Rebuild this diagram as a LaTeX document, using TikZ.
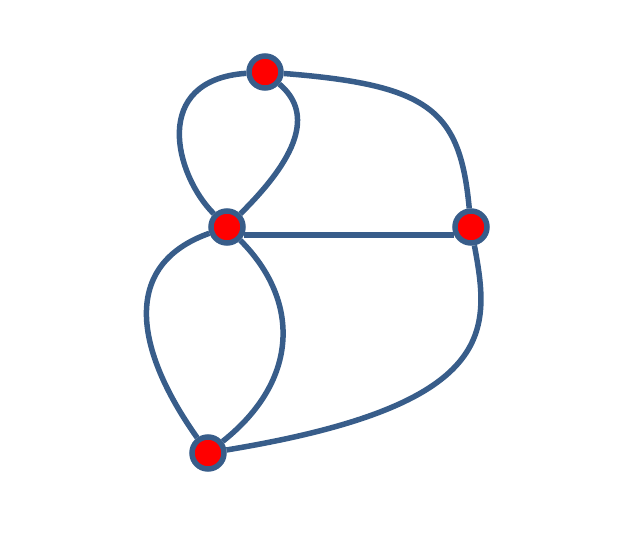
\documentclass[tikz,border=0pt]{standalone}
\usepackage{tikz}

\definecolor{edgeblue}{HTML}{385D8A}

\begin{document}
\begin{tikzpicture}[x=1pt,y=-1pt,
vertex/.style={circle,draw=edgeblue,fill=red,line width=5.5pt,minimum size=32pt,inner sep=0pt},
edge/.style={draw=edgeblue,line width=5.5pt}]
\useasboundingbox (0,0) rectangle (636,545);
% The vertices
\node[vertex] (top) at (265,72) {};
\node[vertex] (mid) at (227,227) {};
\node[vertex] (right) at (471,227) {};
\node[vertex] (bottom) at (208,453) {};

% The two edges between top and mid
\draw[edge] (top) .. controls (150,80) and (175,175) .. (mid);
\draw[edge] (top) .. controls (310,110) and (305,150) .. (mid);

% top to right, mid to right
\draw[edge] (top) .. controls (430,85) and (460,110) .. (right);
\draw[edge] (mid.-25) -- (right.-155);

% The two edges between mid and bottom
\draw[edge] (mid) .. controls (120,265) and (135,350) .. (bottom);
\draw[edge] (mid) .. controls (300,300) and (300,380) .. (bottom);

% right to bottom
\draw[edge] (right) .. controls (490,330) and (500,405) .. (bottom);
\end{tikzpicture}
\end{document}
